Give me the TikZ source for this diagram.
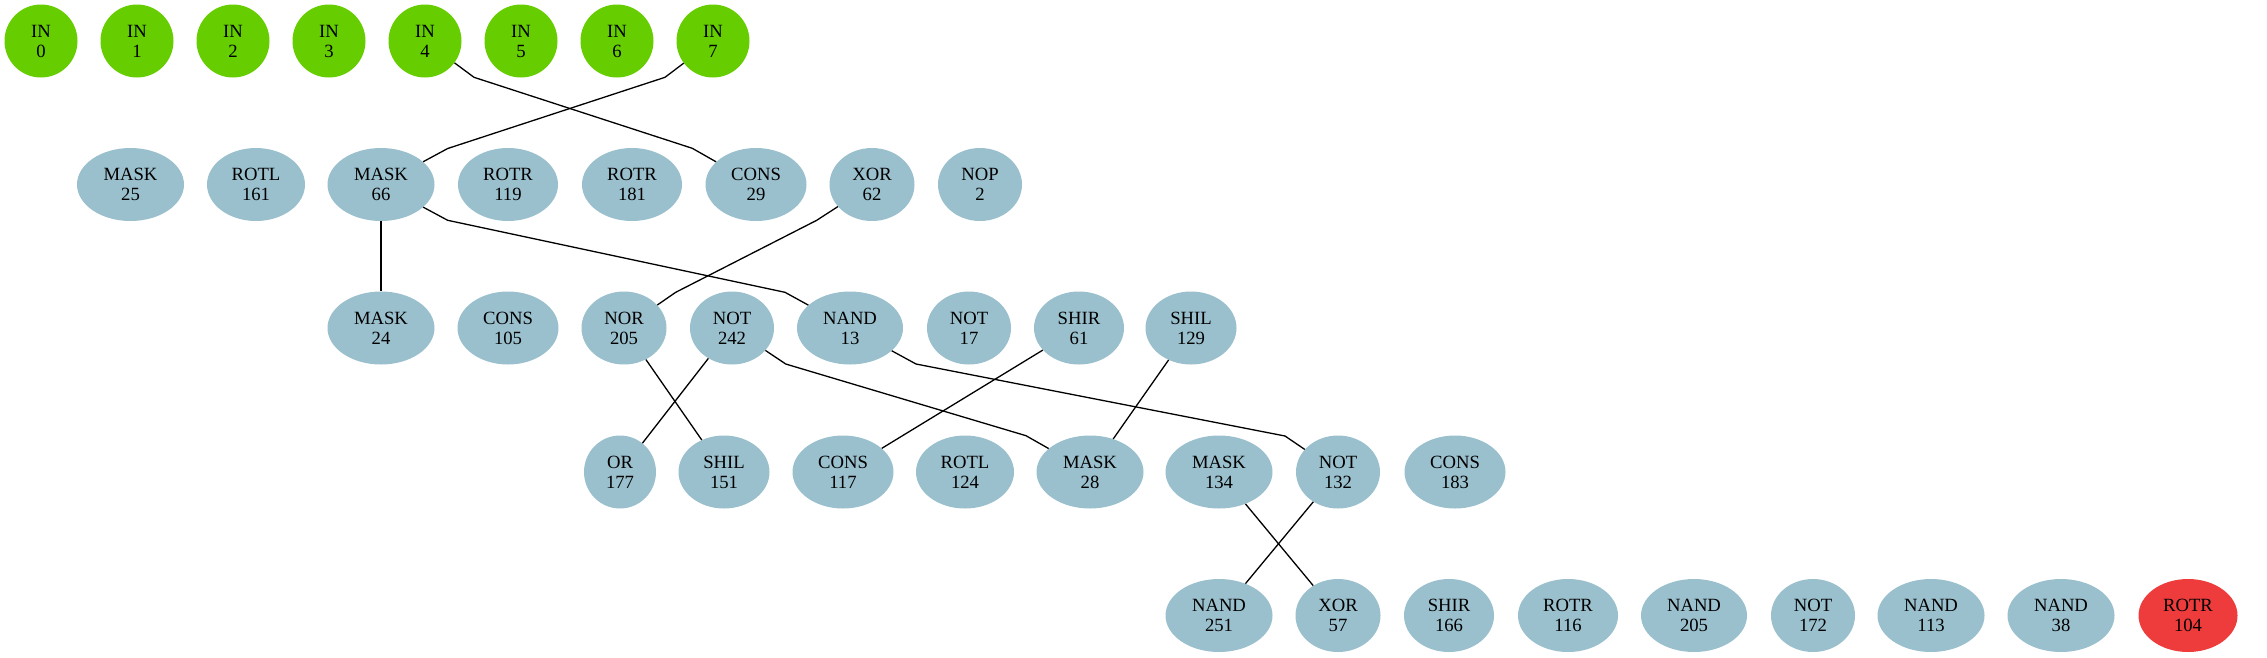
\documentclass[tikz,border=0pt]{standalone}
\usepackage{fontspec}
\setmainfont{Liberation Serif}
\usetikzlibrary{shapes.geometric}
\definecolor{ingreen}{HTML}{66CD00}
\definecolor{opblue}{HTML}{9AC0CD}
\definecolor{outred}{HTML}{EE3B3B}
\newcommand{\lblfont}{\fontsize{18.67}{20}\selectfont}
\tikzset{
  op/.style={ellipse, fill=opblue, draw=none, minimum width=#1pt, minimum height=73pt,
    inner sep=0pt, align=center, font=\lblfont},
  inp/.style={op=73, fill=ingreen},
  outp/.style={op=99, fill=outred},
  edge/.style={draw=black, line width=1.3pt, line join=round}
}
\begin{document}
\begin{tikzpicture}[x=1pt,y=1pt]
\useasboundingbox (0,0) rectangle (2267,-657);
% row 1
\foreach \k in {0,...,7}{
  \node[inp] (in\k) at ({41+96*\k},-41) {IN\\\k};
}
% row 2
\node[op=107] (mask25) at (130.5,-184.5) {MASK\\25};
\node[op=98]  (rotl161) at (256,-184.5) {ROTL\\161};
\node[op=107] (mask66) at (381,-184.5) {MASK\\66};
\node[op=100] (rotr119) at (508,-184.5) {ROTR\\119};
\node[op=100] (rotr181) at (632,-184.5) {ROTR\\181};
\node[op=101] (cons29) at (756,-184.5) {CONS\\29};
\node[op=85]  (xor62) at (872,-184.5) {XOR\\62};
\node[op=84]  (nop2) at (980,-184.5) {NOP\\2};
% row 3
\node[op=107] (mask24) at (381,-328) {MASK\\24};
\node[op=101] (cons105) at (508,-328) {CONS\\105};
\node[op=85]  (nor205) at (624,-328) {NOR\\205};
\node[op=84]  (not242) at (732,-328) {NOT\\242};
\node[op=106] (nand13) at (850,-328) {NAND\\13};
\node[op=84]  (not17) at (969,-328) {NOT\\17};
\node[op=90]  (shir61) at (1079,-328) {SHIR\\61};
\node[op=91]  (shil129) at (1191,-328) {SHIL\\129};
% row 4
\node[op=72]  (or177) at (620,-472) {OR\\177};
\node[op=91]  (shil151) at (724,-472) {SHIL\\151};
\node[op=101] (cons117) at (843,-472) {CONS\\117};
\node[op=98]  (rotl124) at (965,-472) {ROTL\\124};
\node[op=107] (mask28) at (1090,-472) {MASK\\28};
\node[op=107] (mask134) at (1219,-472) {MASK\\134};
\node[op=84]  (not132) at (1338,-472) {NOT\\132};
\node[op=101] (cons183) at (1455,-472) {CONS\\183};
% row 5
\node[op=107] (nand251) at (1219,-615.5) {NAND\\251};
\node[op=85]  (xor57) at (1338,-615.5) {XOR\\57};
\node[op=90]  (shir166) at (1449,-615.5) {SHIR\\166};
\node[op=100] (rotr116) at (1568,-615.5) {ROTR\\116};
\node[op=106] (nand205) at (1694,-615.5) {NAND\\205};
\node[op=84]  (not172) at (1813,-615.5) {NOT\\172};
\node[op=107] (nand113) at (1931,-615.5) {NAND\\113};
\node[op=107] (nand38) at (2061,-615.5) {NAND\\38};
\node[outp]   (rotr104) at (2188,-615.5) {ROTR\\104};
% edges
\draw[edge] (in4) -- (474,-77.3) -- (692.3,-148.3) -- (cons29);
\draw[edge] (in7) -- (665,-77.3) -- (447.7,-148.5) -- (mask66);
\draw[edge] (mask66) -- (mask24);
\draw[edge] (mask66) -- (447.7,-220.3) -- (785,-292.3) -- (nand13);
\draw[edge] (xor62) -- (816.7,-220.3) -- (675.7,-292.3) -- (nor205);
\draw[edge] (nor205) -- (shil151);
\draw[edge] (not242) -- (or177);
\draw[edge] (not242) -- (785.7,-364) -- (1026,-435.7) -- (mask28);
\draw[edge] (nand13) -- (916,-364) -- (1285,-436) -- (not132);
\draw[edge] (shir61) -- (cons117);
\draw[edge] (shil129) -- (mask28);
\draw[edge] (mask134) -- (xor57);
\draw[edge] (not132) -- (nand251);
\end{tikzpicture}
\end{document}
